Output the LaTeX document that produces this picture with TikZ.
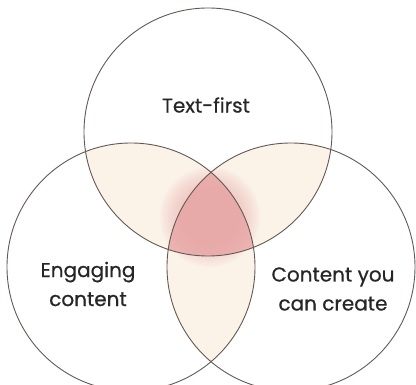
\documentclass[tikz,border=0pt]{standalone}
\usepackage{fontspec}
\newfontfamily\labelfont{Poppins}[FakeBold=0.6]
\definecolor{ringline}{RGB}{100,88,84}
\definecolor{peach}{RGB}{251,242,232}
\definecolor{blush}{RGB}{230,160,160}
\begin{document}
\begin{tikzpicture}[x=1pt,y=-1pt,
    ring/.style={draw=ringline,line width=0.9pt},
    label/.style={align=center,font=\labelfont\fontsize{20}{29}\selectfont,text=black!85}]
    \useasboundingbox (0,0) rectangle (416,385);
    \coordinate (T) at (208,132);
    \coordinate (L) at (131,267);
    \coordinate (R) at (291,267);
    \def\rad{124}
    % pairwise overlaps
    \begin{scope}
        \clip (T) circle (\rad);
        \fill[peach] (L) circle (\rad);
        \fill[peach] (R) circle (\rad);
    \end{scope}
    \begin{scope}
        \clip (L) circle (\rad);
        \fill[peach] (R) circle (\rad);
    \end{scope}
    % soft glow round the middle
    \foreach \r in {50,48,...,30}
        \fill[blush,opacity=0.05] (210,217) circle (\r);
    % middle
    \begin{scope}
        \clip (T) circle (\rad);
        \clip (L) circle (\rad);
        \fill[blush,opacity=0.75] (R) circle (\rad);
    \end{scope}
    \foreach \n in {T,L,R}
        \draw[ring] (\n) circle (\rad);
    \node[label] (textfirst) at (206,105) {Text-first};
    \node[label] (engaging) at (88,284) {Engaging\\content};
    \node[label] (create) at (333,289) {Content you\\can create};
\end{tikzpicture}
\end{document}
